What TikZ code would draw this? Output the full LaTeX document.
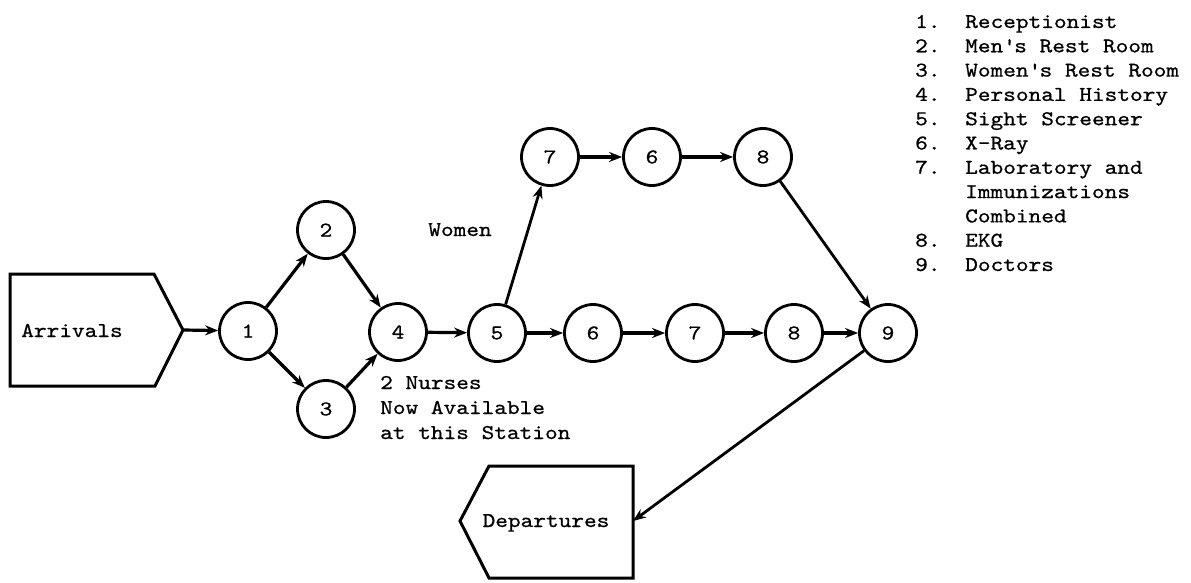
\documentclass[tikz,border=0pt]{standalone}
\usepackage{fontspec}
\usetikzlibrary{arrows.meta}
\newfontfamily\tw{lmmono10-regular.otf}[FakeStretch=1.15,FakeBold=0.7]
\newcommand\twsize{\tw\fontsize{21}{25}\selectfont}
\begin{document}
\begin{tikzpicture}[x=1pt,y=-1pt,
  station/.style={circle,draw,line width=2.8pt,minimum size=57pt,inner sep=0pt,font=\twsize},
  flow/.style={line width=3.2pt,-{Stealth[length=13pt,width=10pt]}},
  thinflow/.style={line width=2.8pt,-{Stealth[length=13pt,width=10pt]}},
  lbl/.style={font=\twsize,inner sep=0pt},
  terminal/.style={line width=3pt,line join=miter}]
\path[use as bounding box] (0,0) rectangle (1191,583);

% entry and exit terminals
\draw[terminal] (10,274) -- (154,274) -- (183,330) -- (155,386) -- (10,386) -- cycle;
\coordinate (arrtip) at (183,330);
\node[lbl,anchor=base] (arrtxt) at (72,337) {Arrivals};

\draw[terminal] (460,521) -- (489,466) -- (633,466) -- (633,578) -- (489,578) -- cycle;
\coordinate (depside) at (633,521);
\node[lbl,anchor=base] (deptxt) at (546,527) {Departures};

% stations, common path
\node[station] (n1) at (248,331) {1};
\node[station] (n2) at (326,230) {2};
\node[station] (n3) at (326,409) {3};
\node[station] (n4) at (398,332) {4};
\node[station] (n5) at (497,333) {5};
% men's path
\node[station] (n6) at (593,333) {6};
\node[station] (n7) at (695,333) {7};
\node[station] (n8) at (794,333) {8};
\node[station] (n9) at (888,333) {9};
% women's path
\node[station] (t7) at (550,157) {7};
\node[station] (t6) at (652,157) {6};
\node[station] (t8) at (763,157) {8};

% connectors
\draw[flow] (arrtip) -- (n1);
\draw[flow] (n1) -- (n2);
\draw[flow] (n1) -- (n3);
\draw[flow] (n2) -- (n4);
\draw[flow] (n3) -- (n4);
\draw[flow] (n4) -- (n5);
\draw[flow] (n5) -- (n6);
\draw[flow] (n6) -- (n7);
\draw[flow] (n7) -- (n8);
\draw[flow] (n8) -- (n9);
\draw[thinflow] (n5) -- (t7);
\draw[flow] (t7) -- (t6);
\draw[flow] (t6) -- (t8);
\draw[thinflow] (t8) -- (n9);
\draw[thinflow] (n9) -- (depside);

% annotations
\node[lbl,anchor=base] (women) at (460,236) {Women};
\node[lbl,anchor=base west] (nurse1) at (380,389) {2 Nurses};
\node[lbl,anchor=base west] (nurse2) at (380,414) {Now Available};
\node[lbl,anchor=base west] (nurse3) at (380,439) {at this Station};

% legend
\foreach \k/\num/\txt in {
  1/1./Receptionist,
  2/2./Men\textquotesingle s Rest Room,
  3/3./Women\textquotesingle s Rest Room,
  4/4./Personal History,
  5/5./Sight Screener,
  6/6./X-Ray,
  7/7./Laboratory and,
  8//Immunizations,
  9//Combined,
  10/8./EKG,
  11/9./Doctors}{
  \node[lbl,anchor=base west] (legnum\k) at (915,{28+24.3*(\k-1)}) {\num};
  \node[lbl,anchor=base west] (legtxt\k) at (965,{28+24.3*(\k-1)}) {\txt};
}
\end{tikzpicture}
\end{document}
